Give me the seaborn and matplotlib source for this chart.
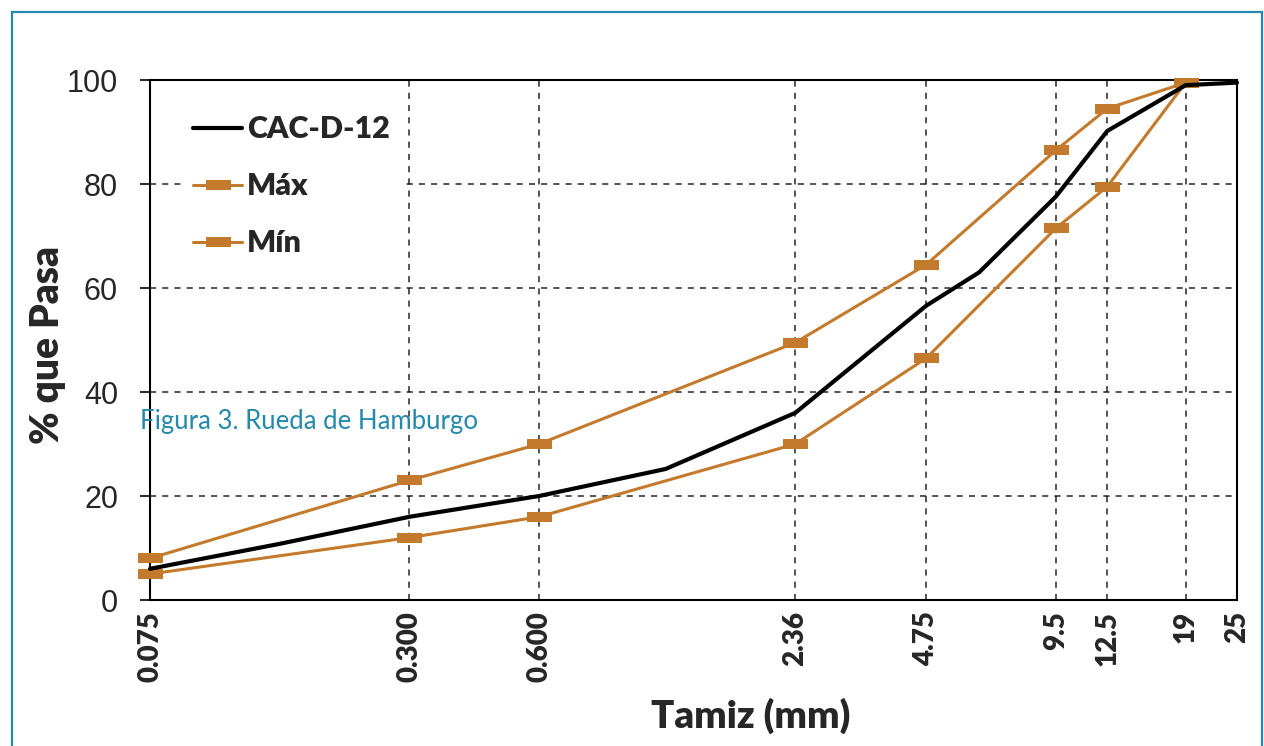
import matplotlib
matplotlib.use("Agg")
import matplotlib.pyplot as plt
from matplotlib.patches import Rectangle
import seaborn as sns

# datos
tamiz_cac = [0.075, 0.15, 0.300, 0.600, 1.18, 2.36, 4.75, 6.3, 9.5, 12.5, 19, 25]
pasa_cac = [6.0, 10.8, 16.0, 20.0, 25.2, 36.0, 56.6, 63.0, 77.6, 90.2, 99.0, 99.5]

tamiz_lim = [0.075, 0.300, 0.600, 2.36, 4.75, 9.5, 12.5, 19]
pasa_max = [8.0, 23.0, 30.0, 49.5, 64.5, 86.5, 94.5, 99.5]
pasa_min = [5.0, 12.0, 16.0, 30.0, 46.5, 71.5, 79.5, 99.5]

ticks_x = [0.075, 0.300, 0.600, 2.36, 4.75, 9.5, 12.5, 19, 25]
ticks_x_lab = ["0.075", "0.300", "0.600", "2.36", "4.75", "9.5", "12.5", "19", "25"]
ticks_y = [0, 20, 40, 60, 80, 100]

naranja = "#C47A2C"
teal = "#2588AD"

sns.set_style("white")
plt.rcParams["font.family"] = ["Lato", "DejaVu Sans"]

fig = plt.figure(figsize=(12.64, 7.46), dpi=100)
ax = fig.add_axes([150 / 1264, 1 - 600 / 746, 1087 / 1264, 520 / 746])

# marcador rectangular horizontal
rect = [(-1.25, -0.5), (1.25, -0.5), (1.25, 0.5), (-1.25, 0.5), (-1.25, -0.5)]

sns.lineplot(x=tamiz_cac, y=pasa_cac, ax=ax, color="black", lw=3.0,
             label="CAC-D-12", sort=False, zorder=4, clip_on=False)
sns.lineplot(x=tamiz_lim, y=pasa_max, ax=ax, color=naranja, lw=2.2,
             marker=rect, markersize=18, markeredgewidth=0,
             label="Máx", sort=False, zorder=3, clip_on=False)
sns.lineplot(x=tamiz_lim, y=pasa_min, ax=ax, color=naranja, lw=2.2,
             marker=rect, markersize=18, markeredgewidth=0,
             label="Mín", sort=False, zorder=3, clip_on=False)

ax.set_xscale("log")
ax.set_xlim(0.075, 25)
ax.set_ylim(0, 100)
ax.minorticks_off()
ax.set_xticks(ticks_x)
ax.set_xticklabels(ticks_x_lab, rotation=90, fontsize=20, fontweight="heavy")
ax.set_yticks(ticks_y)
ax.set_yticklabels([str(v) for v in ticks_y], fontsize=22,
                   family=["Liberation Sans", "DejaVu Sans"])
ax.tick_params(axis="x", length=0, pad=8)
ax.tick_params(axis="y", direction="out", length=7, width=1.2, color="black", pad=16, left=True)

ax.grid(True, color="black", ls=(0, (4, 4)), lw=1.1, alpha=0.85)
for s in ax.spines.values():
    s.set_visible(True)
    s.set_color("black")
    s.set_linewidth(1.5)

ax.set_xlabel("Tamiz (mm)", fontsize=27.5, fontweight="heavy")
ax.xaxis.set_label_coords((751 - 150) / 1087, -(698 - 600) / 520)
ax.set_ylabel("% que Pasa", fontsize=28, fontweight="heavy")
ax.yaxis.set_label_coords(-(150 - 66) / 1087, (600 - 345) / 520)

leg = ax.legend(loc="upper left", bbox_to_anchor=(181 / 1264, 1 - 103 / 746),
                bbox_transform=fig.transFigure, frameon=True, framealpha=1,
                edgecolor="white", facecolor="white", fancybox=False,
                prop={"size": 22, "weight": "heavy"}, handlelength=1.6,
                handletextpad=0.15, labelspacing=0.95, borderaxespad=0)
leg.set_zorder(5)

fig.text(140 / 1264, 1 - 421 / 746, "Figura 3. Rueda de Hamburgo", color=teal,
         fontsize=18.5, va="center", ha="left", zorder=10)

# marco del recuadro
fig.patches.append(Rectangle((12 / 1264, -0.05), 1250 / 1264, 1.05 - 12 / 746,
                             transform=fig.transFigure, fill=False,
                             edgecolor=teal, lw=1.6, zorder=0))

fig.savefig("out.png", dpi=100, facecolor="white")
